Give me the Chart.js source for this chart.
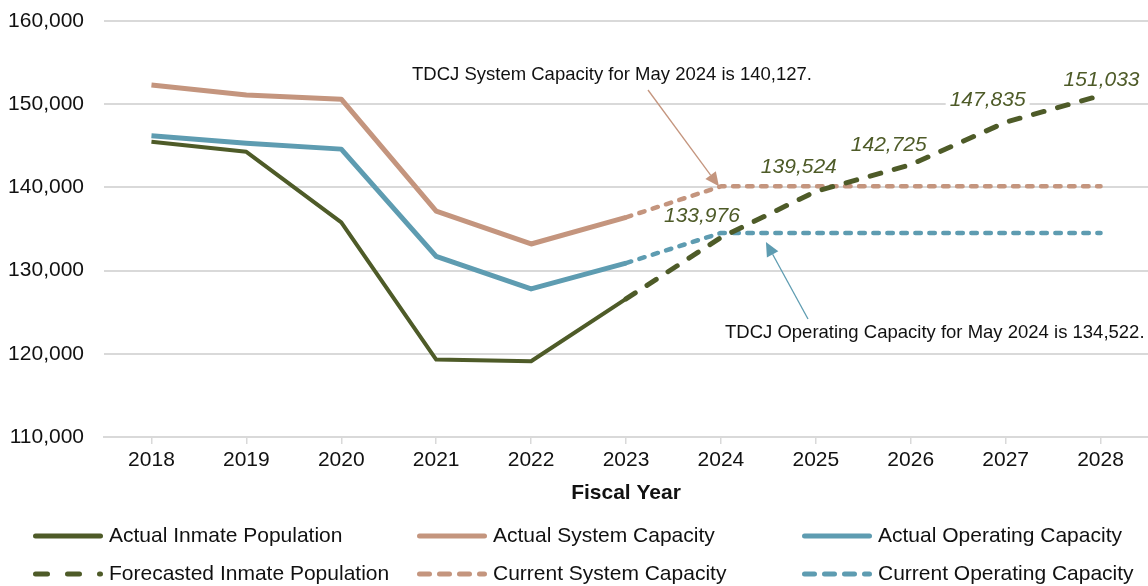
<!DOCTYPE html>
<html>
<head>
<meta charset="utf-8">
<script src="https://cdn.jsdelivr.net/npm/chart.js@4.4.1/dist/chart.umd.min.js"></script>
<style>
  html, body { margin: 0; padding: 0; background: #fff; }
  canvas { display: block; }
</style>
</head>
<body>
<canvas id="population-chart" width="1148" height="586"></canvas>
<script>
// Fiscal years on the x axis
const years = ['2018', '2019', '2020', '2021', '2022', '2023', '2024', '2025', '2026', '2027', '2028'];

// Values (2018-2023 actual, 2023-2028 projected)
const actualInmate = [145480, 144280, 135800, 119300, 119100, 126600, null, null, null, null, null];
const actualSystem = [152300, 151100, 150600, 137150, 133200, 136400, null, null, null, null, null];
const actualOperating = [146200, 145300, 144600, 131700, 127800, 130900, null, null, null, null, null];
const forecastInmate = [null, null, null, null, null, 126600, 133976, 139524, 142725, 147835, 151033];
const currentSystem = [null, null, null, null, null, 136400, 140127, 140127, 140127, 140127, 140127];
const currentOperating = [null, null, null, null, null, 130900, 134522, 134522, 134522, 134522, 134522];

const yMin = 110000;
const yMax = 160000;
const yStep = 10000;

const GREEN = '#4E5B28';
const TAN = '#C4957E';
const BLUE = '#5E9CB1';
const FONT = "'Liberation Sans', Arial, sans-serif";

// label offsets for the forecast values (2024..2028), in px
const forecastLabelShift = [[-19, -21], [-17, -24], [-22, -20], [-18, -22], [1, -15]];

function fmt(v) {
    return v.toLocaleString('en-US');
}

function arrow(ctx, x1, y1, x2, y2, color) {
    const ang = Math.atan2(y2 - y1, x2 - x1);
    const len = 14, half = 6.5;
    const bx = x2 - len * Math.cos(ang), by = y2 - len * Math.sin(ang);
    ctx.save();
    ctx.strokeStyle = color;
    ctx.fillStyle = color;
    ctx.lineWidth = 1.3;
    ctx.beginPath();
    ctx.moveTo(x1, y1);
    ctx.lineTo(bx, by);
    ctx.stroke();
    ctx.beginPath();
    ctx.moveTo(x2, y2);
    ctx.lineTo(bx + half * Math.sin(ang), by - half * Math.cos(ang));
    ctx.lineTo(bx - half * Math.sin(ang), by + half * Math.cos(ang));
    ctx.closePath();
    ctx.fill();
    ctx.restore();
}

// value labels, callouts and the bottom legend
const extras = {
    id: 'extras',
    afterDatasetsDraw(chart) {
        const ctx = chart.ctx;
        const xs = chart.scales.x, ys = chart.scales.y;

        // forecast value labels
        ctx.save();
        ctx.font = 'italic 21px ' + FONT;
        ctx.textAlign = 'center';
        ctx.textBaseline = 'middle';
        let k = 0;
        forecastInmate.forEach((v, i) => {
            if (v === null || i < 6) return;
            const s = forecastLabelShift[k++];
            const x = xs.getPixelForValue(i) + s[0];
            const y = ys.getPixelForValue(v) + s[1];
            const txt = fmt(v);
            const w = ctx.measureText(txt).width;
            ctx.fillStyle = '#fff';
            ctx.fillRect(x - w / 2 - 4, y - 8, w + 8, 16);
            ctx.fillStyle = GREEN;
            ctx.fillText(txt, x, y);
        });
        ctx.restore();

        // callouts
        const x24 = xs.getPixelForValue(6);
        ctx.save();
        ctx.font = '18.5px ' + FONT;
        ctx.fillStyle = '#111';
        ctx.textBaseline = 'middle';
        ctx.textAlign = 'left';
        ctx.fillText('TDCJ System Capacity for May 2024 is ' + fmt(currentSystem[6]) + '.', 412, 75);
        ctx.fillText('TDCJ Operating Capacity for May 2024 is ' + fmt(currentOperating[6]) + '.', 725, 333);
        ctx.restore();
        arrow(ctx, 648, 90, x24 - 2, ys.getPixelForValue(currentSystem[6]), TAN);
        arrow(ctx, 808, 319, x24 + 45, ys.getPixelForValue(currentOperating[6]) + 9, BLUE);
    },
    afterDraw(chart) {
        const ctx = chart.ctx;
        const colX = [33, 417, 802];
        const rowY = [536, 574];
        const sampleLen = 70;
        chart.data.datasets.forEach((ds, i) => {
            const x = colX[i % 3], y = rowY[Math.floor(i / 3)];
            ctx.save();
            ctx.strokeStyle = ds.borderColor;
            ctx.lineWidth = 5;
            ctx.lineCap = 'round';
            ctx.setLineDash(ds.legendDash || []);
            ctx.beginPath();
            ctx.moveTo(x + 2.5, y);
            ctx.lineTo(x + sampleLen - 2.5, y);
            ctx.stroke();
            ctx.restore();
            ctx.save();
            ctx.font = '21px ' + FONT;
            ctx.fillStyle = '#111';
            ctx.textBaseline = 'middle';
            ctx.fillText(ds.label, x + sampleLen + 6, y);
            ctx.restore();
        });
    }
};

const lineBase = {
    pointRadius: 0,
    pointHoverRadius: 0,
    fill: false,
    tension: 0,
    spanGaps: false,
    borderJoinStyle: 'round'
};

new Chart(document.getElementById('population-chart').getContext('2d'), {
    type: 'line',
    data: {
        labels: years,
        datasets: [
            { ...lineBase, label: 'Actual Inmate Population', data: actualInmate, borderColor: GREEN, borderWidth: 4 },
            { ...lineBase, label: 'Actual System Capacity', data: actualSystem, borderColor: TAN, borderWidth: 5 },
            { ...lineBase, label: 'Actual Operating Capacity', data: actualOperating, borderColor: BLUE, borderWidth: 5 },
            { ...lineBase, label: 'Forecasted Inmate Population', data: forecastInmate, borderColor: GREEN, borderWidth: 5,
              borderDash: [11, 14], borderCapStyle: 'round', legendDash: [12, 20] },
            { ...lineBase, label: 'Current System Capacity', data: currentSystem, borderColor: TAN, borderWidth: 4.5,
              borderDash: [5.5, 8.5], borderCapStyle: 'round', legendDash: [10, 10] },
            { ...lineBase, label: 'Current Operating Capacity', data: currentOperating, borderColor: BLUE, borderWidth: 4.5,
              borderDash: [5.5, 8.5], borderCapStyle: 'round', legendDash: [10, 10] }
        ]
    },
    options: {
        responsive: false,
        animation: false,
        devicePixelRatio: 1,
        layout: { padding: { top: 21, right: 0, bottom: 79, left: 0 } },
        plugins: {
            legend: { display: false },
            tooltip: { enabled: false }
        },
        scales: {
            x: {
                offset: true,
                grid: { drawOnChartArea: false, tickLength: 7, color: '#d9d9d9', lineWidth: 1.5 },
                border: { color: '#d9d9d9', width: 2 },
                ticks: { font: { family: FONT, size: 21 }, color: '#111', padding: 4, maxRotation: 0 },
                title: { display: true, text: 'Fiscal Year', font: { family: FONT, size: 21, weight: 'bold' }, color: '#111',
                         padding: { top: 2, bottom: 1 } },
                afterFit(scale) { scale.height = 70; }
            },
            y: {
                min: yMin,
                max: yMax,
                grid: { drawTicks: false, color: '#d9d9d9', lineWidth: 2 },
                border: { display: false },
                ticks: { stepSize: yStep, font: { family: FONT, size: 21 }, color: '#111', padding: 20,
                         callback: v => fmt(v) },
                afterFit(scale) {
                    scale.width = 104;
                    scale.paddingTop = 0;
                    scale.paddingBottom = 0;
                }
            }
        }
    },
    plugins: [extras]
});
</script>
</body>
</html>
